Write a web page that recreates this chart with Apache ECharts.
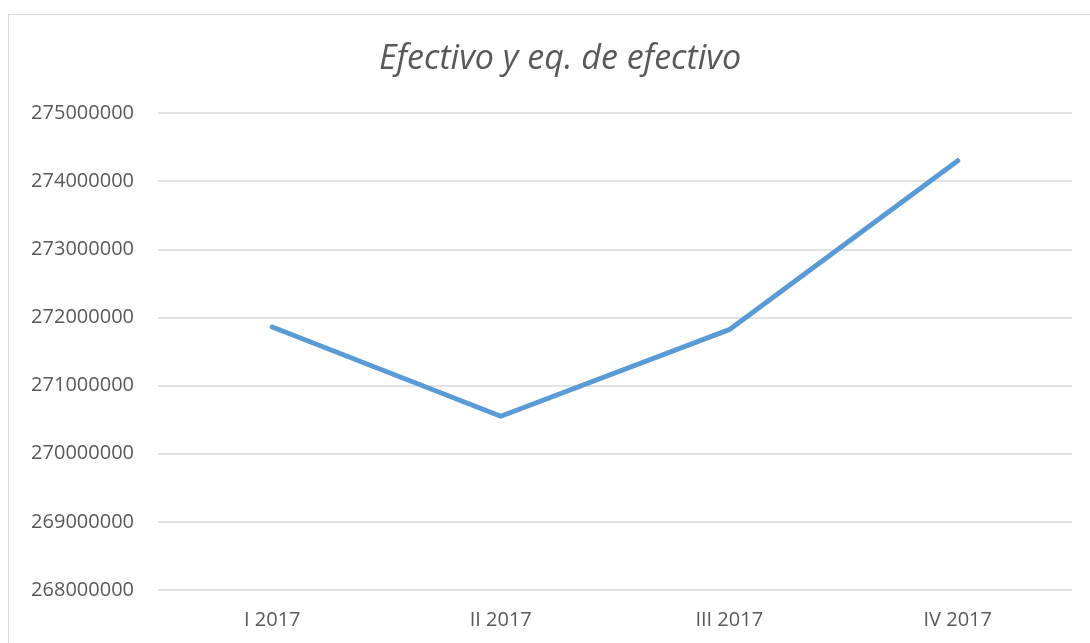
<!DOCTYPE html>
<html>
<head>
<meta charset="utf-8">
<style>
  html, body { margin: 0; padding: 0; background: #fff; }
  #frame { position: absolute; left: 8px; top: 14px; width: 1100px; height: 700px; border: 1px solid #d9d9d9; }
  #chart { position: absolute; left: 0; top: 0; width: 1090px; height: 643px; }
</style>
<script src="https://cdn.jsdelivr.net/npm/echarts@6/dist/echarts.min.js"></script>
</head>
<body>
<div id="frame"></div>
<div id="chart"></div>
<script>
// datos
const categories = ['I 2017', 'II 2017', 'III 2017', 'IV 2017'];
const efectivo = [271860000, 270550000, 271820000, 274300000];

let chart = echarts.init(document.getElementById('chart'));
let option = {
    animation: false,
    title: {
        text: 'Efectivo y eq. de efectivo',
        left: 555,
        top: 37,
        textAlign: 'center',
        textStyle: {
            fontFamily: 'Open Sans',
            fontStyle: 'italic',
            fontWeight: 'normal',
            fontSize: 34,
            color: '#595959'
        }
    },
    grid: { left: 158, right: 18, top: 113, bottom: 53 },
    xAxis: {
        type: 'category',
        data: categories,
        boundaryGap: true,
        axisLine: { show: false },
        axisTick: { show: false },
        axisLabel: { color: '#595959', fontSize: 20, fontFamily: 'Open Sans', margin: 20 }
    },
    yAxis: {
        type: 'value',
        min: 268000000,
        max: 275000000,
        interval: 1000000,
        axisLine: { show: false },
        axisTick: { show: false },
        axisLabel: {
            color: '#595959', fontSize: 20, fontFamily: 'Open Sans', margin: 24,
            formatter: (v) => String(v)
        },
        splitLine: { lineStyle: { color: '#d9d9d9', width: 1.5 } }
    },
    series: [
        {
            type: 'line',
            data: efectivo,
            symbol: 'none',
            lineStyle: { color: '#5b9bd5', width: 5, cap: 'round', join: 'round' }
        }
    ]
};
chart.setOption(option);
</script>
</body>
</html>
